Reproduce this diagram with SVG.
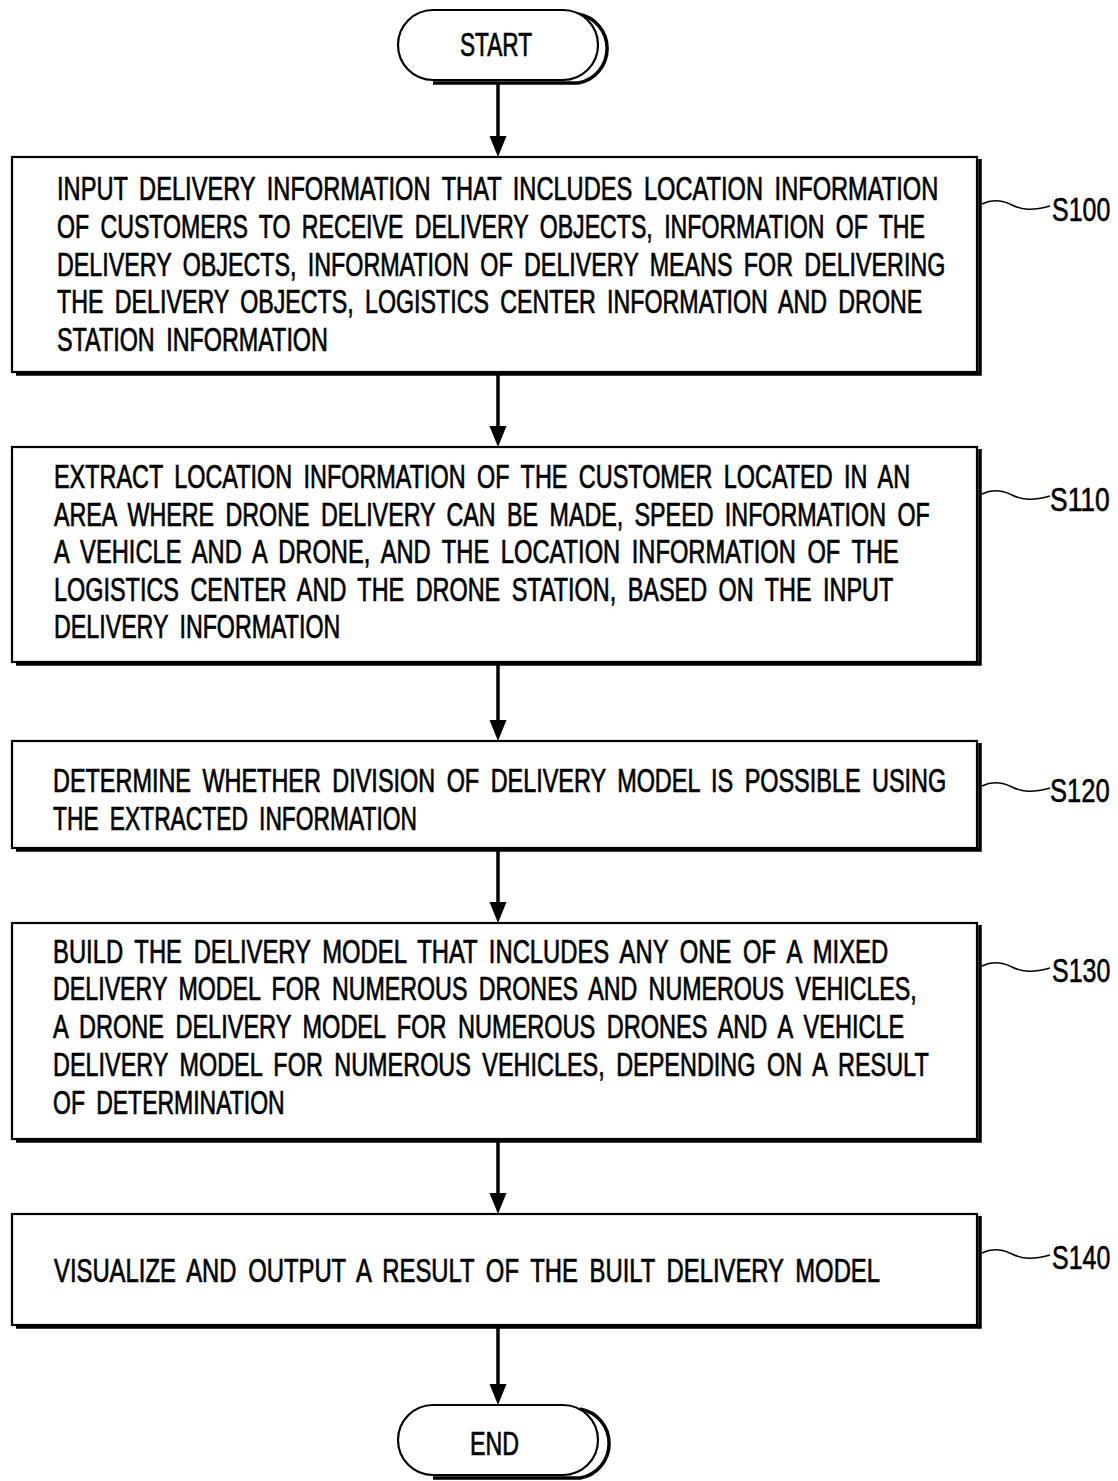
<svg xmlns="http://www.w3.org/2000/svg" width="1118" height="1481" viewBox="0 0 1118 1481">
<style>
.bg{fill:#fff}
.box{fill:#fff;stroke:#000;stroke-width:2.2}
.sh{fill:none;stroke:#000;stroke-width:3.5}
.t{font-family:"Liberation Sans",Arial,sans-serif;font-size:33px;fill:#000;stroke:#000;stroke-width:0.7;word-spacing:7px}
.lbl{font-family:"Liberation Sans",Arial,sans-serif;font-size:33px;fill:#000;stroke:#000;stroke-width:0.6}
.tl{fill:none;stroke:#000;stroke-width:1.6}
.ar{fill:none;stroke:#000;stroke-width:3.5}
</style>
<defs>
<path id="tilde" d="M0,0 C10,-5 20,-4 30,1 C40,6 50,7 68,2"/>
</defs>
<rect class="bg" x="0" y="0" width="1118" height="1481"/>

<g id="connectors">
<line class="ar" x1="498" y1="82" x2="498" y2="138"/>
<path d="M489.5,136 L506.5,136 L498,157 Z"/>
<line class="ar" x1="498" y1="374" x2="498" y2="428"/>
<path d="M489.5,426 L506.5,426 L498,447 Z"/>
<line class="ar" x1="498" y1="664" x2="498" y2="722"/>
<path d="M489.5,720 L506.5,720 L498,741 Z"/>
<line class="ar" x1="498" y1="850" x2="498" y2="904"/>
<path d="M489.5,902 L506.5,902 L498,923 Z"/>
<line class="ar" x1="498" y1="1141" x2="498" y2="1195"/>
<path d="M489.5,1193 L506.5,1193 L498,1214 Z"/>
<line class="ar" x1="498" y1="1327" x2="498" y2="1386"/>
<path d="M489.5,1384 L506.5,1384 L498,1405 Z"/>
</g>

<g id="start">
<path class="sh" d="M578,14 A35,35 0 0 1 578,83 L433,83"/>
<rect class="box" x="398" y="10" width="200" height="70" rx="35" ry="35"/>
<text class="t" transform="translate(460,56) scale(0.72,1)" textLength="100" lengthAdjust="spacingAndGlyphs">START</text>
</g>

<g id="s100">
<polyline class="sh" points="980,159 980,374 16,374"/>
<rect class="box" x="12" y="157" width="965" height="215"/>
<text class="t" transform="translate(57,200) scale(0.7,1)" textLength="1259" lengthAdjust="spacingAndGlyphs">INPUT DELIVERY INFORMATION THAT INCLUDES LOCATION INFORMATION</text>
<text class="t" transform="translate(57,238) scale(0.7,1)" textLength="1240" lengthAdjust="spacingAndGlyphs">OF CUSTOMERS TO RECEIVE DELIVERY OBJECTS, INFORMATION OF THE</text>
<text class="t" transform="translate(57,276) scale(0.7,1)" textLength="1269" lengthAdjust="spacingAndGlyphs">DELIVERY OBJECTS, INFORMATION OF DELIVERY MEANS FOR DELIVERING</text>
<text class="t" transform="translate(57,313) scale(0.7,1)" textLength="1236" lengthAdjust="spacingAndGlyphs">THE DELIVERY OBJECTS, LOGISTICS CENTER INFORMATION AND DRONE</text>
<text class="t" transform="translate(57,351) scale(0.7,1)" textLength="387" lengthAdjust="spacingAndGlyphs">STATION INFORMATION</text>
<use href="#tilde" class="tl" x="982" y="204"/>
<text class="lbl" transform="translate(1052,221) scale(0.72,1)" textLength="81" lengthAdjust="spacingAndGlyphs">S100</text>
</g>

<g id="s110">
<polyline class="sh" points="980,449 980,664 16,664"/>
<rect class="box" x="12" y="447" width="965" height="215"/>
<text class="t" transform="translate(54,488) scale(0.7,1)" textLength="1223" lengthAdjust="spacingAndGlyphs">EXTRACT LOCATION INFORMATION OF THE CUSTOMER LOCATED IN AN</text>
<text class="t" transform="translate(54,526) scale(0.7,1)" textLength="1251" lengthAdjust="spacingAndGlyphs">AREA WHERE DRONE DELIVERY CAN BE MADE, SPEED INFORMATION OF</text>
<text class="t" transform="translate(54,563) scale(0.7,1)" textLength="1207" lengthAdjust="spacingAndGlyphs">A VEHICLE AND A DRONE, AND THE LOCATION INFORMATION OF THE</text>
<text class="t" transform="translate(54,601) scale(0.7,1)" textLength="1199" lengthAdjust="spacingAndGlyphs">LOGISTICS CENTER AND THE DRONE STATION, BASED ON THE INPUT</text>
<text class="t" transform="translate(54,638) scale(0.7,1)" textLength="409" lengthAdjust="spacingAndGlyphs">DELIVERY INFORMATION</text>
<use href="#tilde" class="tl" x="982" y="494"/>
<text class="lbl" transform="translate(1050,511) scale(0.72,1)" textLength="83" lengthAdjust="spacingAndGlyphs">S110</text>
</g>

<g id="s120">
<polyline class="sh" points="980,743 980,850 16,850"/>
<rect class="box" x="12" y="741" width="965" height="107"/>
<text class="t" transform="translate(53,792) scale(0.7,1)" textLength="1276" lengthAdjust="spacingAndGlyphs">DETERMINE WHETHER DIVISION OF DELIVERY MODEL IS POSSIBLE USING</text>
<text class="t" transform="translate(53,830) scale(0.7,1)" textLength="520" lengthAdjust="spacingAndGlyphs">THE EXTRACTED INFORMATION</text>
<use href="#tilde" class="tl" x="982" y="786"/>
<text class="lbl" transform="translate(1050,802) scale(0.72,1)" textLength="83" lengthAdjust="spacingAndGlyphs">S120</text>
</g>

<g id="s130">
<polyline class="sh" points="980,925 980,1141 16,1141"/>
<rect class="box" x="12" y="923" width="965" height="216"/>
<text class="t" transform="translate(53,963) scale(0.7,1)" textLength="1193" lengthAdjust="spacingAndGlyphs">BUILD THE DELIVERY MODEL THAT INCLUDES ANY ONE OF A MIXED</text>
<text class="t" transform="translate(53,1000) scale(0.7,1)" textLength="1234" lengthAdjust="spacingAndGlyphs">DELIVERY MODEL FOR NUMEROUS DRONES AND NUMEROUS VEHICLES,</text>
<text class="t" transform="translate(53,1038) scale(0.7,1)" textLength="1216" lengthAdjust="spacingAndGlyphs">A DRONE DELIVERY MODEL FOR NUMEROUS DRONES AND A VEHICLE</text>
<text class="t" transform="translate(53,1076) scale(0.7,1)" textLength="1251" lengthAdjust="spacingAndGlyphs">DELIVERY MODEL FOR NUMEROUS VEHICLES, DEPENDING ON A RESULT</text>
<text class="t" transform="translate(53,1114) scale(0.7,1)" textLength="331" lengthAdjust="spacingAndGlyphs">OF DETERMINATION</text>
<use href="#tilde" class="tl" x="982" y="966"/>
<text class="lbl" transform="translate(1052,982) scale(0.72,1)" textLength="81" lengthAdjust="spacingAndGlyphs">S130</text>
</g>

<g id="s140">
<polyline class="sh" points="980,1216 980,1327 16,1327"/>
<rect class="box" x="12" y="1214" width="965" height="111"/>
<text class="t" transform="translate(54,1282) scale(0.7,1)" textLength="1180" lengthAdjust="spacingAndGlyphs">VISUALIZE AND OUTPUT A RESULT OF THE BUILT DELIVERY MODEL</text>
<use href="#tilde" class="tl" x="982" y="1253"/>
<text class="lbl" transform="translate(1052,1269) scale(0.72,1)" textLength="81" lengthAdjust="spacingAndGlyphs">S140</text>
</g>

<g id="end">
<path class="sh" d="M580,1409 A35,35 0 0 1 580,1478 L433,1478"/>
<rect class="box" x="398" y="1405" width="200" height="70" rx="35" ry="35"/>
<text class="t" transform="translate(470,1455) scale(0.72,1)" textLength="68" lengthAdjust="spacingAndGlyphs">END</text>
</g>
</svg>
